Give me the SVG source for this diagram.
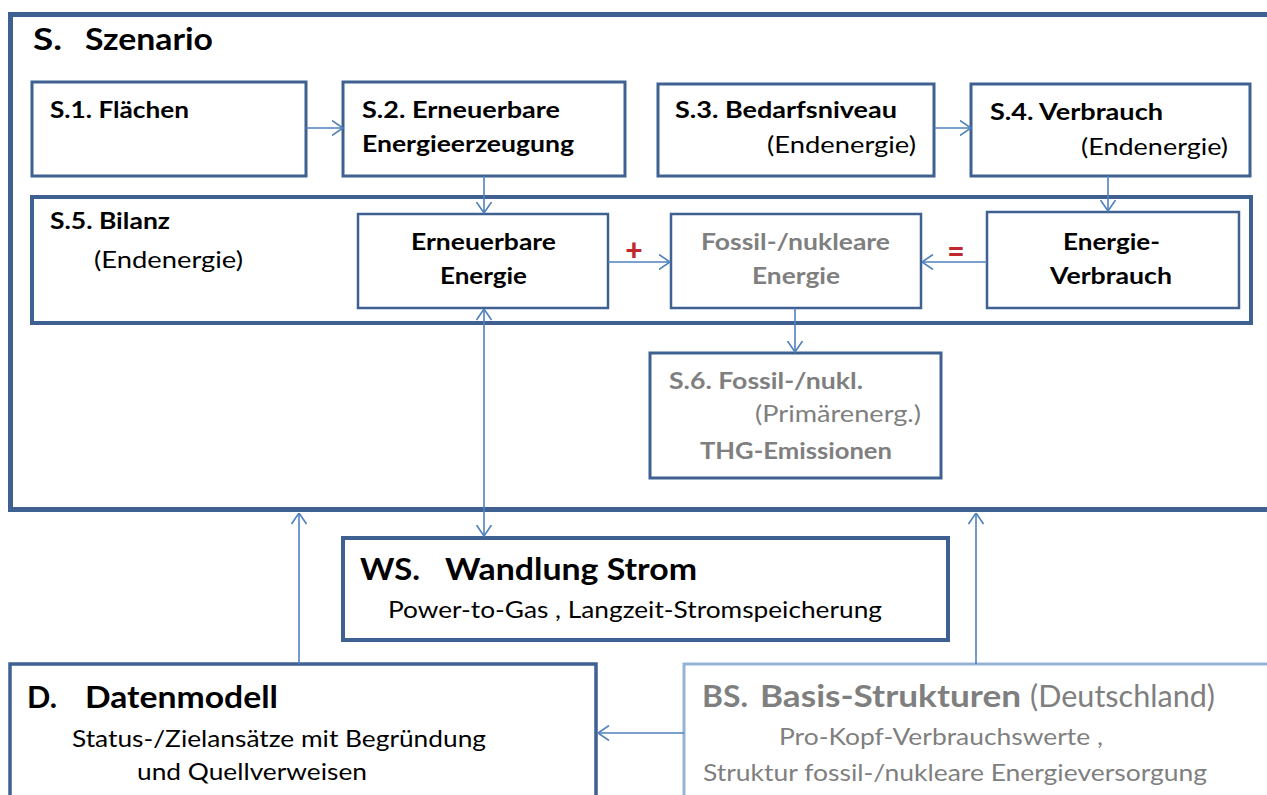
<svg xmlns="http://www.w3.org/2000/svg" width="1267" height="795" viewBox="0 0 1267 795">
<defs>
<marker id="arr" viewBox="0 0 12 16" refX="11.5" refY="8" markerWidth="12" markerHeight="16" markerUnits="userSpaceOnUse" orient="auto-start-reverse">
<path d="M0.5,0.5 L11.5,8 L0.5,15.5" fill="none" stroke="#4F81BD" stroke-width="1.6"/>
</marker>
</defs>
<style>
.box{fill:#fff;stroke:#3E6191;stroke-width:3}
.inner{fill:#fff;stroke:#3E6191;stroke-width:2.5}
.light{fill:#fff;stroke:#95B3D7;stroke-width:3}
.con{fill:none;stroke:#4F81BD;stroke-width:1.6}
text{font-family:Lato,"Open Sans","Liberation Sans",sans-serif;fill:#000}
.b{font-weight:bold;font-size:23.5px}
.n{font-size:23.5px}
.t{font-weight:bold;font-size:29.5px}
.g{fill:#7F7F7F}
.red{fill:#C0282D;font-weight:900;font-size:30px;text-anchor:middle}
</style>
<rect width="1267" height="795" fill="#fff"/>

<g id="S">
<rect x="10.5" y="14.5" width="1290" height="495" fill="#fff" stroke="#3E6191" stroke-width="5"/>
<text class="t" x="33" y="50" textLength="29" lengthAdjust="spacingAndGlyphs">S.</text>
<text class="t" x="85" y="50" textLength="128" lengthAdjust="spacingAndGlyphs">Szenario</text>
</g>

<g id="S1">
<rect class="box" x="32" y="82" width="274" height="94"/>
<text class="b" x="50" y="118" textLength="139" lengthAdjust="spacingAndGlyphs">S.1. Flächen</text>
</g>

<g id="S2">
<rect class="box" x="343" y="82" width="282" height="94"/>
<text class="b" x="362" y="118" textLength="198" lengthAdjust="spacingAndGlyphs">S.2. Erneuerbare</text>
<text class="b" x="362" y="152" textLength="212" lengthAdjust="spacingAndGlyphs">Energieerzeugung</text>
</g>

<g id="S3">
<rect class="box" x="658" y="84" width="276" height="92"/>
<text class="b" x="675" y="118" textLength="222" lengthAdjust="spacingAndGlyphs">S.3. Bedarfsniveau</text>
<text class="n" x="767" y="153" textLength="149" lengthAdjust="spacingAndGlyphs">(Endenergie)</text>
</g>

<g id="S4">
<rect class="box" x="971" y="84" width="279" height="92"/>
<text class="b" x="990" y="120" textLength="173" lengthAdjust="spacingAndGlyphs">S.4. Verbrauch</text>
<text class="n" x="1081" y="155" textLength="147" lengthAdjust="spacingAndGlyphs">(Endenergie)</text>
</g>

<g id="S5">
<rect x="32" y="197" width="1219" height="126" fill="#fff" stroke="#3E6191" stroke-width="4"/>
<text class="b" x="50" y="229" textLength="120" lengthAdjust="spacingAndGlyphs">S.5. Bilanz</text>
<text class="n" x="94" y="268" textLength="149" lengthAdjust="spacingAndGlyphs">(Endenergie)</text>
</g>

<g id="EE">
<rect class="inner" x="358" y="214" width="250" height="94"/>
<text class="b" x="411" y="250" textLength="145" lengthAdjust="spacingAndGlyphs">Erneuerbare</text>
<text class="b" x="440" y="284" textLength="87" lengthAdjust="spacingAndGlyphs">Energie</text>
</g>

<g id="FE">
<rect class="inner" x="671" y="214" width="250" height="94"/>
<text class="b g" x="701" y="250" textLength="189" lengthAdjust="spacingAndGlyphs">Fossil-/nukleare</text>
<text class="b g" x="752" y="284" textLength="88" lengthAdjust="spacingAndGlyphs">Energie</text>
</g>

<g id="EV">
<rect class="inner" x="987" y="212" width="252" height="96"/>
<text class="b" x="1063" y="250" textLength="97" lengthAdjust="spacingAndGlyphs">Energie-</text>
<text class="b" x="1050" y="284" textLength="122" lengthAdjust="spacingAndGlyphs">Verbrauch</text>
</g>

<g id="S6">
<rect class="box" x="650" y="353" width="291" height="125"/>
<text class="b g" x="669" y="389" textLength="194" lengthAdjust="spacingAndGlyphs">S.6. Fossil-/nukl.</text>
<text class="n g" x="755" y="422" textLength="166" lengthAdjust="spacingAndGlyphs">(Primärenerg.)</text>
<text class="b g" x="700" y="459" textLength="192" lengthAdjust="spacingAndGlyphs">THG-Emissionen</text>
</g>

<g id="WS">
<rect x="343" y="538" width="605" height="102" fill="#fff" stroke="#3E6191" stroke-width="4"/>
<text class="t" x="360" y="580" textLength="60" lengthAdjust="spacingAndGlyphs">WS.</text>
<text class="t" x="445" y="580" textLength="252" lengthAdjust="spacingAndGlyphs">Wandlung Strom</text>
<text class="n" x="388" y="618" textLength="494" lengthAdjust="spacingAndGlyphs">Power-to-Gas , Langzeit-Stromspeicherung</text>
</g>

<g id="D">
<rect x="10" y="664" width="586" height="150" fill="#fff" stroke="#3E6191" stroke-width="3.5"/>
<text class="t" x="27" y="708" textLength="30" lengthAdjust="spacingAndGlyphs">D.</text>
<text class="t" x="85" y="708" textLength="193" lengthAdjust="spacingAndGlyphs">Datenmodell</text>
<text class="n" x="72" y="747" textLength="414" lengthAdjust="spacingAndGlyphs">Status-/Zielansätze mit Begründung</text>
<text class="n" x="137" y="780" textLength="230" lengthAdjust="spacingAndGlyphs">und Quellverweisen</text>
</g>

<g id="BS">
<rect class="light" x="684" y="664" width="620" height="150"/>
<text class="t g" x="702" y="707" textLength="46" lengthAdjust="spacingAndGlyphs">BS.</text>
<text class="t g" x="760" y="707" textLength="261" lengthAdjust="spacingAndGlyphs">Basis-Strukturen</text>
<text class="g" x="1030" y="707" font-size="30" textLength="185" lengthAdjust="spacingAndGlyphs">(Deutschland)</text>
<text class="n g" x="779" y="745" textLength="324" lengthAdjust="spacingAndGlyphs">Pro-Kopf-Verbrauchswerte ,</text>
<text class="n g" x="703" y="781" textLength="504" lengthAdjust="spacingAndGlyphs">Struktur fossil-/nukleare Energieversorgung</text>
</g>

<g id="connectors">
<line class="con" x1="306" y1="128" x2="343" y2="128" marker-end="url(#arr)"/>
<line class="con" x1="934" y1="128" x2="971" y2="128" marker-end="url(#arr)"/>
<line class="con" x1="484" y1="176" x2="484" y2="213" marker-end="url(#arr)"/>
<line class="con" x1="1108" y1="176" x2="1108" y2="211" marker-end="url(#arr)"/>
<line class="con" x1="608" y1="262" x2="670" y2="262" marker-end="url(#arr)"/>
<line class="con" x1="987" y1="262" x2="922" y2="262" marker-end="url(#arr)"/>
<line class="con" x1="795" y1="308" x2="795" y2="352" marker-end="url(#arr)"/>
<line class="con" x1="484" y1="309" x2="484" y2="536" marker-start="url(#arr)" marker-end="url(#arr)"/>
<line class="con" x1="299" y1="664" x2="299" y2="513" marker-end="url(#arr)"/>
<line class="con" x1="976" y1="664" x2="976" y2="513" marker-end="url(#arr)"/>
<line class="con" x1="684" y1="733" x2="598" y2="733" marker-end="url(#arr)"/>
<text class="red" x="634" y="261">+</text>
<text class="red" x="956" y="262">=</text>
</g>
</svg>
